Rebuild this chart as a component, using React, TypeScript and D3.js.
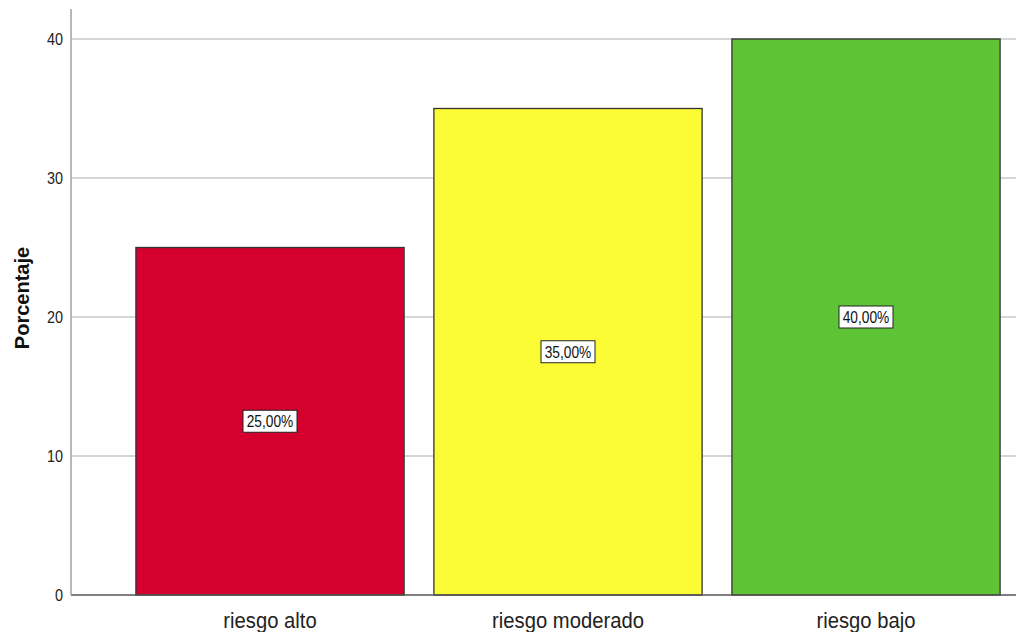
import React from "react";
import * as d3 from "d3";

const categories = ["riesgo alto", "riesgo moderado", "riesgo bajo"];
const values = [25, 35, 40];
const valueLabels = ["25,00%", "35,00%", "40,00%"];
const colors = ["#d5002d", "#fcfc36", "#5ec435"];
const yTicks = [0, 10, 20, 30, 40];

export default function App() {
  const W = 1016, H = 632;
  const x0 = 71, y0 = 595;
  const x = d3.scaleBand<string>().domain(categories).range([121, 1015]).paddingInner(0.1).paddingOuter(0.05);
  const y = d3.scaleLinear().domain([0, 40]).range([y0, 39]);
  const font = "'Liberation Sans', Arial, sans-serif";
  return (
    <svg width={W} height={H} style={{ position: "absolute", left: 0, top: 0 }}>
      <rect width={W} height={H} fill="#fff" />
      {yTicks.filter(t => t > 0).map(t => (
        <line key={t} x1={x0} x2={W} y1={y(t)} y2={y(t)} stroke="#c8c8c8" strokeWidth={1.3} />
      ))}
      {yTicks.map(t => (
        <text key={"t" + t} transform={`translate(63,${y(t)}) scale(0.9,1)`} dy="0.35em" textAnchor="end" fontFamily={font} fontSize={16} fill="#222">{t}</text>
      ))}
      {categories.map((c, i) => (
        <rect key={c} x={x(c)} y={y(values[i])} width={x.bandwidth()} height={y0 - y(values[i])} fill={colors[i]} stroke="#333" strokeWidth={1.3} />
      ))}
      <line x1={x0} x2={W} y1={y0} y2={y0} stroke="#555" strokeWidth={1.5} />
      <line x1={x0} x2={x0} y1={9} y2={y0} stroke="#a0a0a0" strokeWidth={1.5} />
      {categories.map((c, i) => {
        const cx = (x(c) as number) + x.bandwidth() / 2;
        const cy = y(values[i] / 2);
        return (
          <g key={"l" + c}>
            <rect x={cx - 27} y={cy - 11} width={54} height={22} fill="#fff" stroke="#222" strokeWidth={1} />
            <text transform={`translate(${cx},${cy}) scale(0.86,1)`} dy="0.36em" textAnchor="middle" fontFamily={font} fontSize={16} fill="#111">{valueLabels[i]}</text>
          </g>
        );
      })}
      {categories.map(c => (
        <text key={"c" + c} transform={`translate(${(x(c) as number) + x.bandwidth() / 2},628) scale(0.92,1)`} textAnchor="middle" fontFamily={font} fontSize={22} fill="#222">{c}</text>
      ))}
      <text transform={`translate(29,298) rotate(-90)`} textAnchor="middle" fontFamily={font} fontWeight="bold" fontSize={20} fill="#111">Porcentaje</text>
    </svg>
  );
}
